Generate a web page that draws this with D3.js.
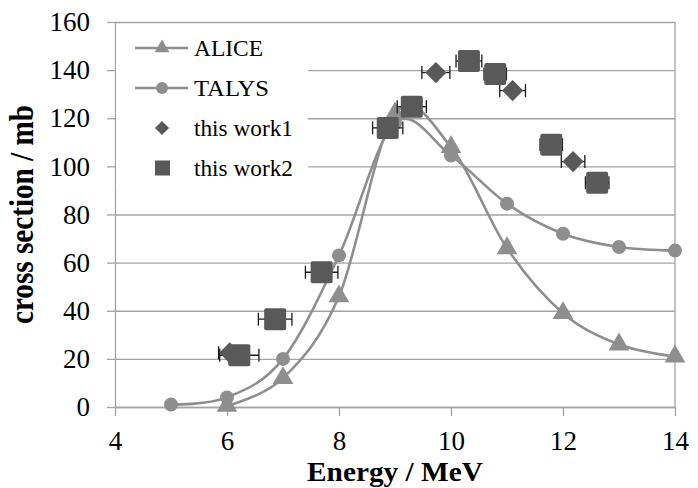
<!DOCTYPE html>
<html>
<head>
<meta charset="utf-8">
<script src="https://cdn.jsdelivr.net/npm/d3@7"></script>
<style>
  body { margin: 0; background: #fff; }
  svg { display: block; font-family: "Liberation Serif", "Times New Roman", serif; }
</style>
</head>
<body>
<div id="chart"></div>
<script>
// theory curves
const energies = [5, 6, 7, 8, 9, 10, 11, 12, 13, 14];
const aliceE = [6, 7, 8, 9, 10, 11, 12, 13, 14];
const aliceXS = [0.5, 12, 46, 122, 108, 66, 39, 26, 21];
const talysXS = [1, 4, 20, 63, 118, 104.5, 84.5, 72, 66.5, 65];

// measured points (energy, cross section, energy error)
const work1E = [6.05, 9.73, 11.1, 12.18];
const work1XS = [22.5, 139, 131.5, 102];
const work1Err = [0.2, 0.25, 0.23, 0.21];

const work2E = [6.22, 6.86, 7.69, 8.87, 9.3, 10.32, 10.79, 11.79, 12.61];
const work2XS = [21.5, 36.5, 56, 116, 124.8, 143.8, 138.4, 109, 93.2];
const work2Err = [0.35, 0.3, 0.29, 0.27, 0.26, 0.23, 0.2, 0.2, 0.21];

const xTicks = [4, 6, 8, 10, 12, 14];
const yTicks = [0, 20, 40, 60, 80, 100, 120, 140, 160];

const legendItems = ["ALICE", "TALYS", "this work1", "this work2"];

const W = 698, H = 488;
const lineCol = "#8e8e8e", expCol = "#595959", gridCol = "#a3a3a3";

const svg = d3.select("#chart").append("svg")
  .attr("width", W).attr("height", H);

const x = d3.scaleLinear().domain([4, 14]).range([115, 675]);
const y = d3.scaleLinear().domain([0, 160]).range([407, 22]);

// horizontal grid
svg.append("g")
  .attr("transform", "translate(115,0)")
  .call(d3.axisLeft(y).tickValues(yTicks).tickSize(-560).tickFormat(""))
  .call(g => g.select(".domain").remove())
  .selectAll("line").attr("stroke", gridCol).attr("stroke-width", 1.3);

// y axis
const yAxis = svg.append("g")
  .attr("transform", "translate(115,0)")
  .call(d3.axisLeft(y).tickValues(yTicks).tickSize(8).tickPadding(17).tickSizeOuter(0));
yAxis.select(".domain").attr("stroke", gridCol).attr("stroke-width", 1.3);
yAxis.selectAll("line").attr("stroke", gridCol).attr("stroke-width", 1.3);
yAxis.selectAll("text").attr("font-size", 27).attr("fill", "#000")
  .attr("font-family", "Liberation Serif");

// x axis
const xAxis = svg.append("g")
  .attr("transform", "translate(0,407)")
  .call(d3.axisBottom(x).tickValues(xTicks).tickSize(9).tickSizeOuter(0));
xAxis.select(".domain").attr("stroke", gridCol).attr("stroke-width", 1.3);
xAxis.selectAll("line").attr("stroke", gridCol).attr("stroke-width", 1.3);
xAxis.selectAll("text").attr("font-size", 27).attr("fill", "#000")
  .attr("font-family", "Liberation Serif")
  .attr("y", 43).attr("dy", 0);

// right border
svg.append("line")
  .attr("x1", x(14)).attr("x2", x(14)).attr("y1", y(160)).attr("y2", y(0))
  .attr("stroke", gridCol).attr("stroke-width", 1.3);

// axis titles
svg.append("text")
  .attr("x", (x(4) + x(14)) / 2).attr("y", 481)
  .attr("text-anchor", "middle").attr("font-weight", "bold").attr("font-size", 27)
  .attr("textLength", 176).attr("lengthAdjust", "spacingAndGlyphs")
  .text("Energy / MeV");
svg.append("text")
  .attr("transform", "translate(33," + ((y(0) + y(160)) / 2) + ") rotate(-90)")
  .attr("text-anchor", "middle").attr("font-weight", "bold").attr("font-size", 33)
  .attr("textLength", 219).attr("lengthAdjust", "spacingAndGlyphs")
  .text("cross section / mb");

// legend background
svg.append("rect")
  .attr("x", 116).attr("y", 26).attr("width", 192).attr("height", 162)
  .attr("fill", "#fff");

// curves
const curve = d3.line().curve(d3.curveCardinal.tension(0));
svg.append("path")
  .attr("d", curve(aliceE.map((e, i) => [x(e), y(aliceXS[i])])))
  .attr("fill", "none").attr("stroke", lineCol).attr("stroke-width", 2.6);
svg.append("path")
  .attr("d", curve(energies.map((e, i) => [x(e), y(talysXS[i])])))
  .attr("fill", "none").attr("stroke", lineCol).attr("stroke-width", 2.6);

const tri = d3.symbol().type(d3.symbolTriangle).size(185);
svg.append("g").selectAll("path")
  .data(aliceE)
  .join("path")
  .attr("d", tri)
  .attr("transform", (d, i) => "translate(" + x(d) + "," + y(aliceXS[i]) + ")")
  .attr("fill", lineCol);

svg.append("g").selectAll("circle")
  .data(energies)
  .join("circle")
  .attr("cx", d => x(d))
  .attr("cy", (d, i) => y(talysXS[i]))
  .attr("r", 7)
  .attr("fill", lineCol);

// error bars
function errBars(es, vs, errs) {
  const g = svg.append("g").attr("stroke", "#1a1a1a").attr("stroke-width", 1.3);
  es.forEach((e, i) => {
    const cy = y(vs[i]);
    const x0 = x(e - errs[i]), x1 = x(e + errs[i]);
    g.append("line").attr("x1", x0).attr("x2", x1).attr("y1", cy).attr("y2", cy);
    g.append("line").attr("x1", x0).attr("x2", x0).attr("y1", cy - 6.5).attr("y2", cy + 6.5);
    g.append("line").attr("x1", x1).attr("x2", x1).attr("y1", cy - 6.5).attr("y2", cy + 6.5);
  });
}
errBars(work1E, work1XS, work1Err);
errBars(work2E, work2XS, work2Err);

svg.append("g").selectAll("rect")
  .data(work1E)
  .join("rect")
  .attr("x", -7.5).attr("y", -7.5).attr("width", 15).attr("height", 15)
  .attr("transform", (d, i) => "translate(" + x(d) + "," + y(work1XS[i]) + ") rotate(45)")
  .attr("fill", expCol);

svg.append("g").selectAll("rect")
  .data(work2E)
  .join("rect")
  .attr("x", d => x(d) - 11)
  .attr("y", (d, i) => y(work2XS[i]) - 11)
  .attr("width", 22).attr("height", 22).attr("rx", 2)
  .attr("fill", expCol);

// legend
const legendWidths = [69, 75, 99, 99];
const leg = svg.append("g");
legendItems.forEach((name, i) => {
  const ly = 48 + i * 40;
  if (i < 2) {
    leg.append("line").attr("x1", 135).attr("x2", 188).attr("y1", ly).attr("y2", ly)
      .attr("stroke", lineCol).attr("stroke-width", 2.6);
  }
  if (i === 0) {
    leg.append("path").attr("d", d3.symbol().type(d3.symbolTriangle).size(95))
      .attr("transform", "translate(162," + ly + ")").attr("fill", lineCol);
  } else if (i === 1) {
    leg.append("circle").attr("cx", 162).attr("cy", ly).attr("r", 6).attr("fill", lineCol);
  } else if (i === 2) {
    leg.append("rect").attr("x", -5).attr("y", -5).attr("width", 10).attr("height", 10)
      .attr("transform", "translate(162," + ly + ") rotate(45)").attr("fill", expCol);
  } else {
    leg.append("rect").attr("x", 155).attr("y", ly - 7.5).attr("width", 15).attr("height", 15)
      .attr("fill", expCol);
  }
  leg.append("text").attr("x", 194).attr("y", ly + 8)
    .attr("font-size", 23)
    .attr("textLength", legendWidths[i]).attr("lengthAdjust", "spacingAndGlyphs")
    .text(name);
});
</script>
</body>
</html>
